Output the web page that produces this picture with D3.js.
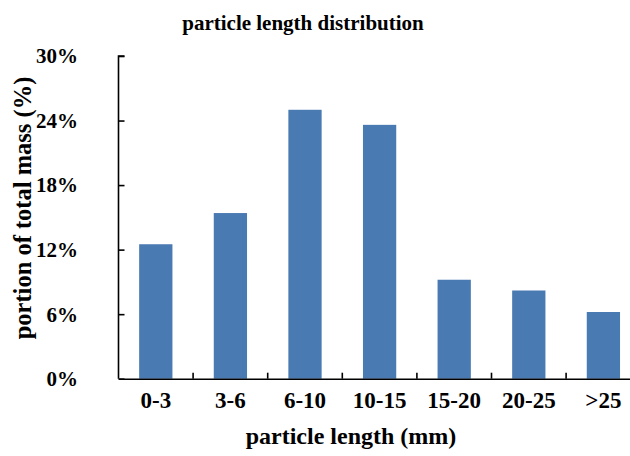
<!DOCTYPE html>
<html>
<head>
<meta charset="utf-8">
<script src="https://cdn.jsdelivr.net/npm/d3@7"></script>
<style>
  body { margin: 0; background: #fff; }
  svg { display: block; }
  text { font-family: "Liberation Serif", "Times New Roman", serif; font-weight: bold; fill: #000; }
</style>
</head>
<body>
<svg id="chart"></svg>
<script>
"use strict";

const categories = ['0-3', '3-6', '6-10', '10-15', '15-20', '20-25', '>25'];
const values = [12.5, 15.4, 25.0, 23.6, 9.2, 8.2, 6.2];
const yTicks = [0, 6, 12, 18, 24, 30];

const width = 630, height = 456;
const plotLeft = 118.5, plotBottom = 378.7, plotTop = 56;
const step = 74.6;

const chart = d3.select('#chart')
  .attr('width', width)
  .attr('height', height);

const x = d3.scaleBand()
  .domain(categories)
  .range([plotLeft, plotLeft + step * categories.length])
  .paddingInner(0.554)
  .paddingOuter(0.277);

const y = d3.scaleLinear()
  .domain([0, 30])
  .range([plotBottom, plotTop]);

// bars
chart.selectAll('.bar')
  .data(values)
  .enter()
  .append('rect')
  .attr('class', 'bar')
  .attr('x', (d, i) => x(categories[i]))
  .attr('y', d => y(d))
  .attr('width', x.bandwidth())
  .attr('height', d => y(0) - y(d))
  .attr('fill', '#4a7ab2');

// y axis, ticks pointing inside
const yAxis = chart.append('g')
  .attr('transform', `translate(${plotLeft},0)`)
  .call(d3.axisRight(y).tickValues(yTicks).tickSize(6).tickFormat(''));
yAxis.select('.domain').attr('d', `M6,${plotTop}H0V${plotBottom}`);
yAxis.selectAll('path, line').attr('stroke', '#000').attr('stroke-width', 1.6);

chart.selectAll('.ylab')
  .data(yTicks)
  .enter()
  .append('text')
  .attr('class', 'ylab')
  .attr('x', 78)
  .attr('y', d => y(d))
  .attr('dy', '0.35em')
  .attr('text-anchor', 'end')
  .style('font-size', '21px')
  .text(d => d + '%');

// x axis: line to the edge, tick marks between the categories
const xAxis = chart.append('g')
  .attr('transform', `translate(0,${plotBottom})`)
  .call(d3.axisBottom(x).tickSize(0).tickPadding(13));
xAxis.select('.domain').attr('stroke', '#000').attr('stroke-width', 1.6);
xAxis.selectAll('text')
  .attr('fill', '#000')
  .style('font-family', '"Liberation Serif", "Times New Roman", serif')
  .style('font-weight', 'bold')
  .style('font-size', '23px');

const gap = x.step() * x.paddingInner() / 2;
chart.selectAll('.xtick')
  .data(categories.slice(1))
  .enter()
  .append('line')
  .attr('class', 'xtick')
  .attr('x1', d => x(d) - gap)
  .attr('x2', d => x(d) - gap)
  .attr('y1', plotBottom)
  .attr('y2', plotBottom - 6)
  .attr('stroke', '#000')
  .attr('stroke-width', 1.6);

// titles
chart.append('text')
  .attr('x', 303)
  .attr('y', 30)
  .attr('text-anchor', 'middle')
  .style('font-size', '21px')
  .text('particle length distribution');

chart.append('text')
  .attr('x', 351)
  .attr('y', 444)
  .attr('text-anchor', 'middle')
  .style('font-size', '24px')
  .text('particle length (mm)');

chart.append('text')
  .attr('transform', 'translate(31,208) rotate(-90)')
  .attr('text-anchor', 'middle')
  .style('font-size', '24.5px')
  .text('portion of total mass (%)');
</script>
</body>
</html>
